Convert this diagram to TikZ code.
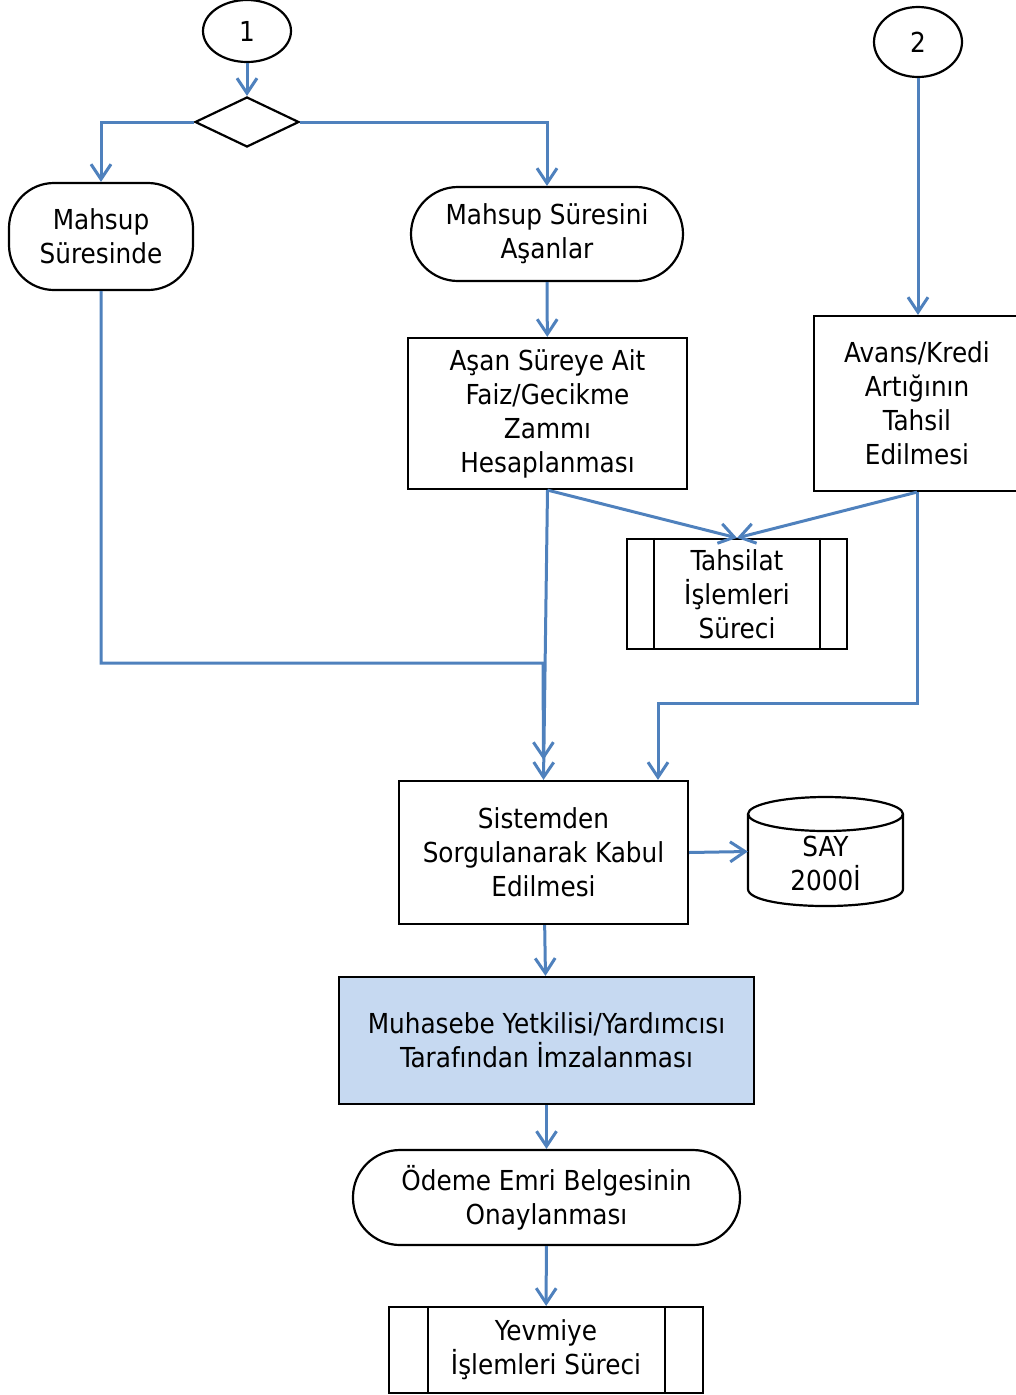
\documentclass[tikz,border=0pt]{standalone}
\usepackage{fontspec}
\setmainfont{DejaVu Sans Condensed}
\usetikzlibrary{arrows.meta,shapes.geometric}
\definecolor{lineblue}{RGB}{79,129,189}
\definecolor{fillblue}{RGB}{198,217,241}
\begin{document}
\begin{tikzpicture}[x=1pt,y=-1pt,
 box/.style={draw=black,line width=2.2pt,inner sep=0pt,align=center,font=\fontsize{27.5}{34}\selectfont},
 conn/.style={draw=lineblue,line width=3pt,-{Straight Barb[length=15pt,width=20pt,line width=3pt]}},
 inner/.style={draw=black,line width=2.2pt}]
\useasboundingbox (0,0) rectangle (1016,1395);

\node[box,ellipse,minimum width=88,minimum height=62] (c1) at (247,31) {1};
\node[box,diamond,minimum width=104,minimum height=50] (d) at (247,122) {};
\node[box,rounded corners=45,minimum width=184,minimum height=107] (ms) at (101,236.5) {Mahsup\\Süresinde};
\node[box,rounded corners=47,minimum width=272,minimum height=94] (ma) at (547,234) {Mahsup Süresini\\Aşanlar};
\node[box,minimum width=279,minimum height=151] (as) at (547.5,413.5) {Aşan Süreye Ait\\Faiz/Gecikme\\Zammı\\Hesaplanması};
\node[box,ellipse,minimum width=88,minimum height=70] (c2) at (918,42) {2};
\node[box,minimum width=206,minimum height=175] (av) at (917,403.5) {Avans/Kredi\\Artığının\\Tahsil\\Edilmesi};
\node[box,minimum width=220,minimum height=110] (th) at (737,594) {Tahsilat\\İşlemleri\\Süreci};
\draw[inner] ([xshift=28pt]th.north west) -- ([xshift=28pt]th.south west);
\draw[inner] ([xshift=-28pt]th.north east) -- ([xshift=-28pt]th.south east);
\node[box,minimum width=289,minimum height=143] (si) at (543.5,852.5) {Sistemden\\Sorgulanarak Kabul\\Edilmesi};
\node[inner sep=0pt,minimum width=155,minimum height=109] (say) at (825.5,851.5) {};
\draw[inner] (825.5,814) ellipse [x radius=77.5, y radius=17];
\draw[inner] (748,814) -- (748,889) .. controls (748,911.7) and (903,911.7) .. (903,889) -- (903,814);
\node[box,draw=none] (sayt) at (825.5,863) {SAY\\2000İ};
\node[box,fill=fillblue,minimum width=415,minimum height=127] (mu) at (546.5,1040.5) {Muhasebe Yetkilisi/Yardımcısı\\Tarafından İmzalanması};
\node[box,rounded corners=47,minimum width=387,minimum height=95] (od) at (546.5,1197.5) {Ödeme Emri Belgesinin\\Onaylanması};
\node[box,minimum width=314,minimum height=86] (ye) at (546,1350) {Yevmiye\\İşlemleri Süreci};
\draw[inner] ([xshift=40pt]ye.north west) -- ([xshift=40pt]ye.south west);
\draw[inner] ([xshift=-39pt]ye.north east) -- ([xshift=-39pt]ye.south east);

\coordinate (j1) at (543,663);
\coordinate (j2) at (658,703);

\draw[conn] (c1) -- (d);
\draw[conn] (d.west) -| (ms.north);
\draw[conn] (d.east) -| (ma.north);
\draw[conn] (ma) -- (as);
\draw[conn] (c2.south) -- (c2.south |- av.north);
\draw[conn] (as.south) -- (th.north);
\draw[conn] (av.south) -- (th.north);
\draw[conn] (as.south) -- (si.north);
\draw[conn] (ms.south) |- (j1) -- ([yshift=20pt]si.north);
\draw[conn] (av.south) |- (j2) -- (j2 |- si.north);
\draw[conn] (si.east) -- (say.west);
\draw[conn] (si) -- (mu);
\draw[conn] (mu) -- (od);
\draw[conn] (od) -- (ye);
\end{tikzpicture}
\end{document}
